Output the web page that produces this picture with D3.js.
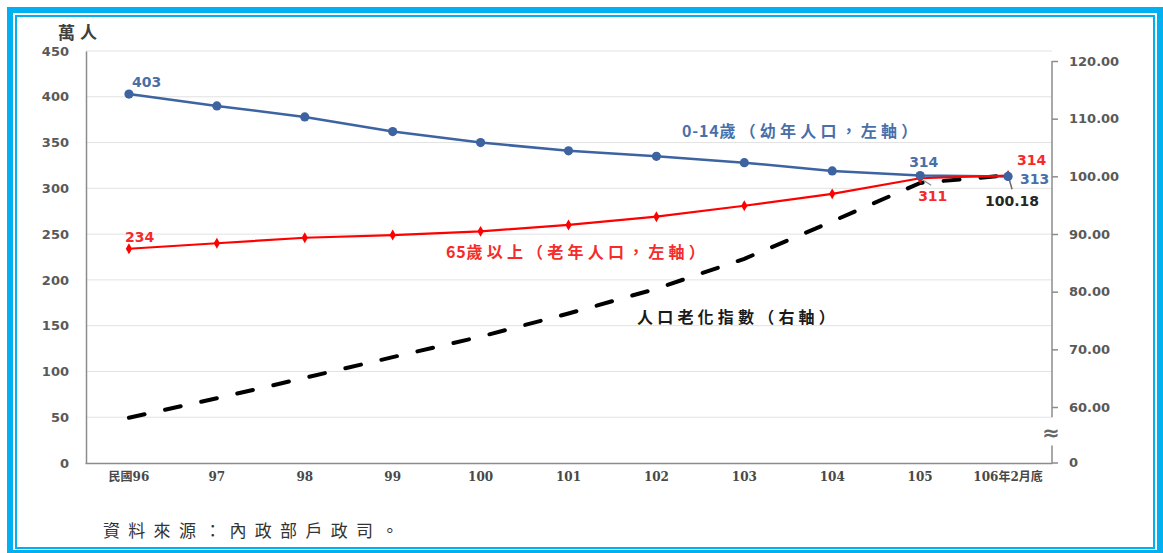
<!DOCTYPE html>
<html>
<head>
<meta charset="utf-8">
<script src="https://cdn.jsdelivr.net/npm/d3@7/dist/d3.min.js"></script>
<style>
  html, body { margin: 0; padding: 0; background: #fff; }
  svg { display: block; }
  .num { font-family: "DejaVu Sans", Verdana, sans-serif; font-weight: bold; }
  .cjk { font-family: "Noto Sans CJK TC", "Noto Sans CJK SC", sans-serif; }
</style>
</head>
<body>
<svg id="chart" width="1163" height="553"></svg>
<script>
// 年度（民國）
const years = ["民國96", "97", "98", "99", "100", "101", "102", "103", "104", "105", "106年2月底"];
// 0-14歲 幼年人口（萬人）
const childPop = [403, 390, 378, 362, 350, 341, 335, 328, 319, 314, 313];
// 65歲以上 老年人口（萬人）
const elderPop = [234, 240, 246, 249, 253, 260, 269, 281, 294, 311, 314];
// 人口老化指數
const agingIndex = [58.13, 61.51, 65.05, 68.64, 72.20, 76.21, 80.51, 85.70, 92.18, 98.86, 100.18];
// 軸刻度
const leftTicks = [0, 50, 100, 150, 200, 250, 300, 350, 400, 450];
const rightTicks = [60, 70, 80, 90, 100, 110, 120];

const svg = d3.select("#chart");
const BLUE = "#3d63a0", BLUE_TXT = "#4a6fa8", RED = "#ff0000", RED_TXT = "#f52a2a";
const GREY_TXT = "#595959";

// 外框
svg.append("rect").attr("x", 10).attr("y", 10).attr("width", 1150).attr("height", 543)
  .attr("fill", "none").attr("stroke", "#00b0f0").attr("stroke-width", 6);
svg.append("rect").attr("x", 16).attr("y", 16).attr("width", 1138).attr("height", 532)
  .attr("fill", "none").attr("stroke", "#00b0f0").attr("stroke-width", 2);

const x = d3.scaleBand().domain(years).range([85, 1052]).padding(0);
const cx = d => x(d) + x.bandwidth() / 2;
const yL = d3.scaleLinear().domain([0, 450]).range([463, 51]);
const yR = d3.scaleLinear().domain([60, 120]).range([407, 61]);
const plotL = 86, plotR = 1052;

// 格線
svg.append("g").selectAll("line").data(leftTicks.filter(t => t > 0)).join("line")
  .attr("x1", plotL).attr("x2", plotR)
  .attr("y1", d => yL(d)).attr("y2", d => yL(d))
  .attr("stroke", "#e2e2e2").attr("stroke-width", 1);

// 左軸
const gL = svg.append("g").attr("transform", `translate(${plotL},0)`)
  .call(d3.axisLeft(yL).tickValues(leftTicks).tickSize(0).tickPadding(17));
gL.select(".domain").attr("stroke", "#8c8c8c").attr("stroke-width", 1.5);
gL.selectAll("text").attr("class", "num").attr("font-size", 13).attr("fill", GREY_TXT);

// X軸
const gX = svg.append("g").attr("transform", `translate(0,${yL(0)})`)
  .call(d3.axisBottom(x).tickSize(0).tickPadding(9));
gX.select(".domain").attr("stroke", "#8c8c8c").attr("stroke-width", 1.5);
gX.selectAll("text").attr("font-family", "'DejaVu Serif', 'Noto Sans CJK TC', serif")
  .attr("font-weight", "bold").attr("font-size", 12).attr("fill", "#484848");

// 右軸（含截斷）
const gR = svg.append("g").attr("transform", `translate(${plotR},0)`)
  .call(d3.axisRight(yR).tickValues(rightTicks).tickSize(6).tickPadding(11).tickFormat(d3.format(".2f")));
gR.select(".domain").remove();
gR.selectAll(".tick line").attr("stroke", "#8c8c8c").attr("stroke-width", 1.5);
gR.selectAll("text").attr("class", "num").attr("font-size", 13).attr("fill", GREY_TXT);
svg.append("line").attr("x1", plotR).attr("x2", plotR).attr("y1", yR(120)).attr("y2", yL(50))
  .attr("stroke", "#8c8c8c").attr("stroke-width", 1.5);
svg.append("path")
  .attr("d", `M${plotR},${yL(19)}V${yL(0)}H${plotR + 6}`)
  .attr("fill", "none").attr("stroke", "#8c8c8c").attr("stroke-width", 1.5);
svg.append("text").attr("x", plotR - 1).attr("y", yL(33)).attr("dy", "0.35em")
  .attr("text-anchor", "middle").attr("class", "num").attr("font-size", 21).attr("fill", "#666").text("≈");
svg.append("text").attr("x", plotR + 17).attr("y", yL(0)).attr("dy", "0.32em")
  .attr("class", "num").attr("font-size", 13).attr("fill", GREY_TXT).text("0");

// 單位
svg.append("text").attr("x", 58).attr("y", 39).attr("class", "cjk")
  .attr("font-size", 17).attr("font-weight", "bold").attr("letter-spacing", 5)
  .attr("fill", "#404040").text("萬人");

// 人口老化指數（虛線）
svg.append("path").datum(agingIndex)
  .attr("d", d3.line().x((d, i) => cx(years[i])).y(d => yR(d)))
  .attr("fill", "none").attr("stroke", "#000").attr("stroke-width", 4)
  .attr("stroke-dasharray", "16,21").attr("stroke-linecap", "round");

// 幼年人口
svg.append("path").datum(childPop)
  .attr("d", d3.line().x((d, i) => cx(years[i])).y(d => yL(d)))
  .attr("fill", "none").attr("stroke", BLUE).attr("stroke-width", 2.5);
// 老年人口
svg.append("path").datum(elderPop)
  .attr("d", d3.line().x((d, i) => cx(years[i])).y(d => yL(d)))
  .attr("fill", "none").attr("stroke", RED).attr("stroke-width", 2.2);

// 引導線
svg.append("line").attr("x1", cx(years[9])).attr("y1", yL(elderPop[9]))
  .attr("x2", cx(years[9]) + 11).attr("y2", yL(elderPop[9]) + 7)
  .attr("stroke", "#8a8a8a").attr("stroke-width", 1.3);
svg.append("line").attr("x1", cx(years[10])).attr("y1", yR(agingIndex[10]))
  .attr("x2", cx(years[10]) + 4).attr("y2", yR(agingIndex[10]) + 14)
  .attr("stroke", "#6a6a6a").attr("stroke-width", 1.5);

// 標記點
svg.append("g").selectAll("path").data(elderPop).join("path")
  .attr("transform", (d, i) => `translate(${cx(years[i])},${yL(d)})`)
  .attr("d", d3.symbol(d3.symbolDiamond, 34)).attr("fill", RED);
svg.append("g").selectAll("circle").data(childPop).join("circle")
  .attr("cx", (d, i) => cx(years[i])).attr("cy", d => yL(d)).attr("r", 4.6).attr("fill", BLUE);

// 數值標籤
function label(txt, px, py, color, anchor) {
  svg.append("text").attr("x", px).attr("y", py).attr("class", "num")
    .attr("font-size", 14).attr("fill", color).attr("text-anchor", anchor || "start").text(txt);
}
const last = years.length - 1;
label(childPop[0], cx(years[0]) + 3, yL(childPop[0]) - 7, BLUE_TXT);
label(elderPop[0], cx(years[0]) - 4, yL(elderPop[0]) - 7, RED_TXT);
label(childPop[9], cx(years[9]) - 11, yL(childPop[9]) - 9, BLUE_TXT);
label(elderPop[9], cx(years[9]) - 2, yL(elderPop[9]) + 23, RED_TXT);
label(elderPop[last], cx(years[last]) + 9, yL(elderPop[last]) - 11, RED_TXT);
label(childPop[last], cx(years[last]) + 12, yL(childPop[last]) + 8, BLUE_TXT);
label(d3.format(".2f")(agingIndex[last]), cx(years[last]) + 4, yR(agingIndex[last]) + 31, "#262626", "middle");

// 系列說明：數字緊排，中文字加寬間距
function seriesLabel(head, body, px, py, color) {
  const t = svg.append("text").attr("x", px).attr("y", py).attr("class", "cjk")
    .attr("font-size", 16).attr("font-weight", "bold").attr("fill", color);
  if (head) t.append("tspan").attr("letter-spacing", 0.8).text(head);
  t.append("tspan").attr("letter-spacing", 4.2).text(body);
}
seriesLabel("0-14", "歲（幼年人口，左軸）", 682, 137, BLUE_TXT);
seriesLabel("65", "歲以上（老年人口，左軸）", 446, 258, RED_TXT);
seriesLabel("", "人口老化指數（右軸）", 637, 323, "#1a1a1a");

// 資料來源
svg.append("text").attr("x", 103).attr("y", 537).attr("class", "cjk")
  .attr("font-size", 17).attr("letter-spacing", 8.3).attr("fill", "#333")
  .text("資料來源：內政部戶政司。");
</script>
</body>
</html>
